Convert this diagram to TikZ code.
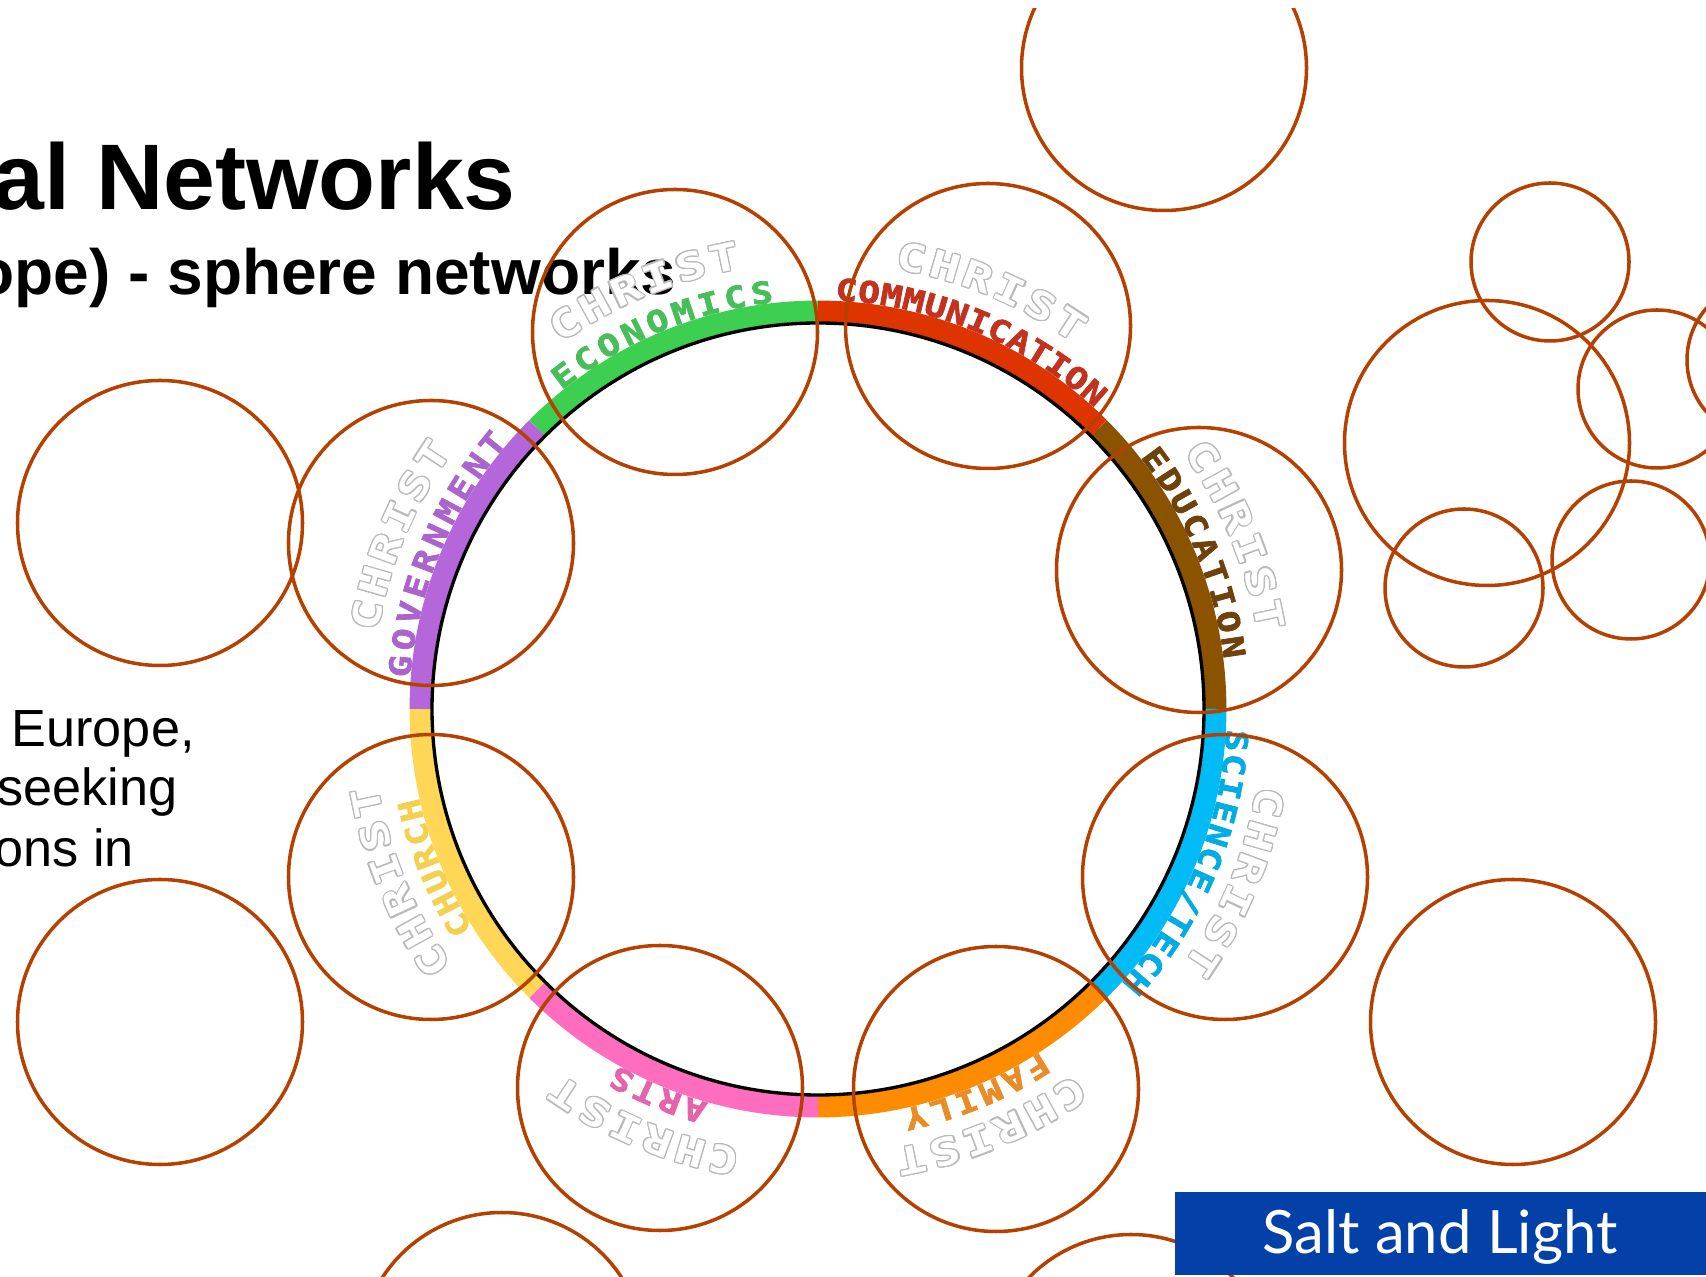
\documentclass[tikz,border=0pt]{standalone}
\usepackage{fontspec}
\setmainfont{Liberation Sans}
\newfontfamily\ringfont[FakeStretch=1.2, FakeBold=2.5]{DejaVu Sans Mono Bold}
\newfontfamily\christfont[FakeStretch=1.3]{DejaVu Sans Mono Bold}
\newfontfamily\saltfont{Lato}
\usepackage[copies]{contour}
\contourlength{0.35pt}
\contournumber{16}

\definecolor{circlebrown}{RGB}{181,64,0}
\definecolor{christgray}{RGB}{185,185,185}
\definecolor{saltblue}{RGB}{3,65,168}
\definecolor{econgreen}{RGB}{61,207,80}
\definecolor{commred}{RGB}{222,52,0}
\definecolor{edubrown}{RGB}{139,82,0}
\definecolor{scicyan}{RGB}{0,187,245}
\definecolor{famorange}{RGB}{255,140,0}
\definecolor{artspink}{RGB}{255,110,190}
\definecolor{churchyellow}{RGB}{255,214,85}
\definecolor{govpurple}{RGB}{180,102,218}
\definecolor{econtext}{RGB}{72,190,90}
\definecolor{commtext}{RGB}{195,50,30}
\definecolor{edutext}{RGB}{110,66,10}
\definecolor{scitext}{RGB}{0,172,228}
\definecolor{famtext}{RGB}{232,140,40}
\definecolor{artstext}{RGB}{228,100,172}
\definecolor{churchtext}{RGB}{245,208,80}
\definecolor{govtext}{RGB}{170,100,204}

\tikzset{
  net circle/.style={draw=circlebrown, line width=1pt},
  band/.style={line width=6.5pt},
  title text/.style={font=\bfseries\fontsize{26.5}{30}\selectfont, inner sep=0pt},
  subtitle text/.style={font=\bfseries\fontsize{18.2}{22}\selectfont, inner sep=0pt},
  body text/.style={font=\fontsize{14.85}{17}\selectfont, inner sep=0pt},
  label letter/.style={font=\ringfont\fontsize{8.6}{9}\selectfont, inner sep=0pt, anchor=base},
  christ letter/.style={font=\christfont\fontsize{10.8}{11}\selectfont, inner sep=0pt, anchor=base, text=white},
  salt box/.style={fill=saltblue, inner sep=0pt, minimum width=151.4pt, minimum height=23.6pt},
  salt text/.style={font=\saltfont\fontsize{17}{20}\selectfont, text=white, inner sep=0pt}
}

% name, mid angle, step, number of letters, colour, letters
\newcommand\ringword[6]{%
  \foreach \ch [count=\i] in {#6}{%
    \pgfmathsetmacro\ang{#2+((#4+1)/2-\i)*#3}%
    \pgfmathsetmacro\rot{\ang-90}%
    \node[label letter, text=#5, rotate=\rot] (#1-\i) at (\ang:409) {\ch};}}
% name, mid angle
\newcommand\christword[2]{%
  \foreach \ch [count=\i] in {C,H,R,I,S,T}{%
    \pgfmathsetmacro\ang{#2+(3.5-\i)*4.3}%
    \pgfmathsetmacro\rot{\ang-90}%
    \node[christ letter, rotate=\rot] (#1-\i) at (\ang:447) {\contour{christgray}{\ch}};}}

\begin{document}
\begin{tikzpicture}[x=0.01cm, y=0.01cm]
\useasboundingbox (0,0) rectangle (1706,-1277);
\begin{scope}
\clip (0,-9) rectangle (1706,-1277);

% heading and side text
\node[title text, anchor=base west] (title) at (-8,-210) {al Networks};
\node[subtitle text, anchor=base east] (subtitle) at (677,-295) {ope) - sphere networks};
\node[body text, anchor=base west] (body-1) at (11,-747) {Europe,};
\node[body text, anchor=base west] (body-2) at (-3,-806) {seeking};
\node[body text, anchor=base west] (body-3) at (-6,-867) {ons in};

% ring of spheres
\begin{scope}[shift={(818,-709)}]
  \foreach \a/\c in {90/econgreen, 45/commred, 0/edubrown, -45/scicyan, -90/famorange, -135/artspink, -180/churchyellow, 135/govpurple}
    \draw[band, \c] (\a:397) arc[start angle=\a, delta angle=45, radius=397];
  \draw[line width=0.95pt] (0,0) circle (386);
  \ringword{econ}{112.5}{3.7}{9}{econtext}{E,C,O,N,O,M,I,C,S}
  \ringword{comm}{67.5}{3.1}{13}{commtext}{C,O,M,M,U,N,I,C,A,T,I,O,N}
  \ringword{edu}{22.5}{3.5}{9}{edutext}{E,D,U,C,A,T,I,O,N}
  \ringword{sci}{-22.5}{3.3}{12}{scitext}{S,C,I,E,N,C,E,/,T,E,C,H}
  \ringword{fam}{-67.5}{3.6}{6}{famtext}{F,A,M,I,L,Y}
  \ringword{arts}{-112.5}{3.6}{4}{artstext}{A,R,T,S}
  \ringword{church}{-157.5}{3.4}{6}{churchtext}{C,H,U,R,C,H}
  \ringword{gov}{157.5}{3.7}{10}{govtext}{G,O,V,E,R,N,M,E,N,T}
  \christword{econ-christ}{112.5}
  \christword{comm-christ}{67.5}
  \christword{edu-christ}{22.5}
  \christword{sci-christ}{-22.5}
  \christword{fam-christ}{-67.5}
  \christword{arts-christ}{-112.5}
  \christword{church-christ}{-157.5}
  \christword{gov-christ}{157.5}
\end{scope}

% circles
\foreach \x/\y/\r in {1164/68/142.5, 675/332/142.5, 988/326/142.5, 1199/570/142.5,
    1225/877/142.5, 996/1089/142.5, 660/1088/142.5, 431/877/142.5, 431/543/142.5,
    160/523/142.5, 160/1022/142.5, 1513/1022/142.5, 502/1355/142.5, 1131/1377/142.5,
    1487/443/142.5, 1550/262/79, 1657/389/79, 1766/360/79, 1464/588/79, 1631/560/79}
  \draw[net circle] (\x,-\y) circle (\r);

\node[salt box, anchor=north west] (saltbox) at (1174,-1191) {};
\node[salt text, anchor=base] (salt) at (1440,-1254) {Salt and Light};
\end{scope}
\end{tikzpicture}
\end{document}
